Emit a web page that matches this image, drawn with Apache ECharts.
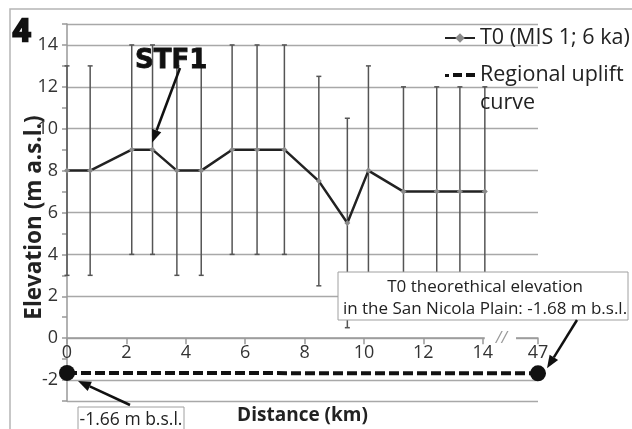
<!DOCTYPE html>
<html><head><meta charset="utf-8">
<script src="https://cdn.jsdelivr.net/npm/echarts@6/dist/echarts.min.js"></script>
<style>html,body{margin:0;padding:0;background:#fff}#c{width:632px;height:429px}</style>
</head><body><div id="c"></div>
<script>
// ---- data ----
const distanceKm = [0, 0.78, 2.18, 2.88, 3.70, 4.52, 5.56, 6.40, 7.32, 8.48, 9.44, 10.15, 11.33, 12.45, 13.23, 14.07];
const elevation  = [8, 8, 9, 9, 8, 8, 9, 9, 9, 7.5, 5.5, 8, 7, 7, 7, 7];
const errLow     = [3, 3, 4, 4, 3, 3, 4, 4, 4, 2.5, 0.5, 3, 2, 2, 2, 2];
const errHigh    = [13, 13, 14, 14, 13, 13, 14, 14, 14, 12.5, 10.5, 13, 12, 12, 12, 12];
const xTickValues = [0, 2, 4, 6, 8, 10, 12, 14];
const breakPos = 15.86;          // axis position standing for 47 km (broken axis)
const breakLabel = '47';
const upliftX = [0, breakPos];
const upliftY = [-1.66, -1.68];
const yTickLabels = [-2, 0, 2, 4, 6, 8, 10, 12, 14];
const seriesNames = ['T0 (MIS 1; 6 ka)', 'Regional uplift curve'];

const FONT = "'Open Sans',sans-serif";
const GRID = '#a8a8a8';

const chart = echarts.init(document.getElementById('c'), null, {renderer: 'canvas'});

const yMin = -3, yMax = 15;
const splitColors = [];
for (let v = yMin; v <= yMax; v++) {
  splitColors.push((v === yMin || v === yMax || v % 2 === 0) ? GRID : 'rgba(0,0,0,0)');
}

const option = {
  animation: false,
  backgroundColor: '#fff',
  grid: {left: 67, right: 94, top: 24, bottom: 28, outerBoundsMode: 'none', containLabel: false},
  legend: {
    orient: 'vertical', left: 444, top: 24, padding: 0,
    itemWidth: 30, itemHeight: 12, itemGap: -19,
    textStyle: {fontFamily: FONT, fontSize: 21.5, color: '#222', lineHeight: 28},
    data: [
      {name: seriesNames[0]},
      {name: seriesNames[1], icon: 'path://M0 1h4v3h-4z M8 0h9v4h-9z M21 0h9v4h-9z'}
    ],
    formatter: function (n) { return n === seriesNames[1] ? ' \nRegional uplift\ncurve' : n; }
  },
  xAxis: {
    type: 'value', min: 0, max: breakPos,
    axisLine: {onZero: true, lineStyle: {color: '#999', width: 1.5}},
    axisTick: {show: true, length: 6, customValues: xTickValues.concat([breakPos]), lineStyle: {color: '#999', width: 1.5}},
    axisLabel: {customValues: xTickValues.concat([breakPos]), margin: 6, fontFamily: FONT, fontSize: 18, color: '#333',
      formatter: function (v) { return Math.abs(v - breakPos) < 1e-6 ? breakLabel : String(v); }},
    splitLine: {show: false},
    name: 'Distance (km)', nameLocation: 'middle', nameGap: 68, nameMoveOverlap: false,
    nameTextStyle: {fontFamily: FONT, fontWeight: 'bold', fontSize: 19, color: '#222'}
  },
  yAxis: {
    type: 'value', min: yMin, max: yMax, interval: 1,
    axisLine: {show: true, onZero: false, lineStyle: {color: '#999', width: 1.5}},
    axisTick: {show: true, length: 5, lineStyle: {color: '#999', width: 1.5}},
    axisLabel: {margin: 9, fontFamily: FONT, fontSize: 18, color: '#333',
      formatter: function (v) { return yTickLabels.indexOf(v) >= 0 ? String(v) : ''; }},
    splitLine: {show: true, lineStyle: {color: splitColors, width: 1.3}},
    name: 'Elevation (m a.s.l.)', nameLocation: 'middle', nameGap: 21, nameMoveOverlap: false,
    nameTextStyle: {fontFamily: FONT, fontWeight: 'bold', fontSize: 22.5, color: '#222', padding: [0, 10, 0, 0]}
  },
  series: [
    {
      type: 'custom', name: 'errorbars', z: 2, silent: true,
      data: distanceKm.map(function (x, i) { return [x, errLow[i], errHigh[i]]; }),
      encode: {x: 0, y: [1, 2]},
      renderItem: function (params, api) {
        const x = api.value(0);
        const p1 = api.coord([x, api.value(1)]);
        const p2 = api.coord([x, api.value(2)]);
        const c = 2.5, st = {stroke: '#555', lineWidth: 1.5};
        return {type: 'group', children: [
          {type: 'line', shape: {x1: p1[0], y1: p1[1], x2: p2[0], y2: p2[1]}, style: st},
          {type: 'line', shape: {x1: p1[0] - c, y1: p1[1], x2: p1[0] + c, y2: p1[1]}, style: st},
          {type: 'line', shape: {x1: p2[0] - c, y1: p2[1], x2: p2[0] + c, y2: p2[1]}, style: st}
        ]};
      }
    },
    {
      type: 'line', name: seriesNames[0], z: 4,
      data: distanceKm.map(function (x, i) { return [x, elevation[i]]; }),
      lineStyle: {color: '#222', width: 2.5},
      symbol: 'diamond', symbolSize: 6, showSymbol: true,
      itemStyle: {color: '#8a8a8a'}
    },
    {
      type: 'line', name: seriesNames[1], z: 5,
      data: upliftX.map(function (x, i) { return [x, upliftY[i]]; }),
      lineStyle: {color: '#111', width: 4, type: [10, 4]},
      symbol: 'circle', symbolSize: 16,
      itemStyle: {color: '#111'}
    }
  ]
};
chart.setOption(option);

function px(x, y) { return chart.convertToPixel({gridIndex: 0}, [x, y]); }
// place the x axis line at elevation 0 (offset from grid bottom derived from the y scale)
const zeroY = px(0, 0)[1], bottomY = px(0, yMin)[1];
chart.setOption({xAxis: {offset: -(bottomY - zeroY)}});

function arrow(x1, y1, x2, y2) {
  const ang = Math.atan2(y2 - y1, x2 - x1), L = 13, W = 5;
  const bx = x2 - L * Math.cos(ang), by = y2 - L * Math.sin(ang);
  const nx = -Math.sin(ang) * W, ny = Math.cos(ang) * W;
  return [
    {type: 'line', z: 120, shape: {x1: x1, y1: y1, x2: bx, y2: by}, style: {stroke: '#111', lineWidth: 2.5}},
    {type: 'polygon', z: 120, shape: {points: [[x2, y2], [bx + nx, by + ny], [bx - nx, by - ny]]}, style: {fill: '#111'}}
  ];
}

const pSTF = px(distanceKm[3], elevation[3]);
const pL = px(upliftX[0], upliftY[0]);
const pR = px(upliftX[1], upliftY[1]);
const p14 = px(14, 0), pGap = px(15.12, 0);
const els = [];
els.push({type: 'rect', z: -10, silent: true, shape: {x: 10, y: 9, width: 650, height: 450}, style: {fill: 'none', stroke: '#b5b5b5', lineWidth: 1.5}});
els.push({type: 'text', z: 100, x: 13, y: 17, style: {text: '4', font: "bold 31px 'Liberation Sans', sans-serif", fill: '#111', stroke: '#111', lineWidth: 2.5, verticalAlign: 'top'}});
els.push({type: 'text', z: 100, x: 135, y: 48, style: {text: 'STF1', font: "900 26px 'DejaVu Sans', sans-serif", fill: '#111', stroke: '#111', lineWidth: 0.8, verticalAlign: 'top'}});
Array.prototype.push.apply(els, arrow(180, 68, pSTF[0] - 0.5, pSTF[1] - 7));
// axis break
els.push({type: 'rect', z: 100, shape: {x: p14[0] + 2, y: p14[1] - 3, width: pGap[0] - p14[0] - 2, height: 5}, style: {fill: '#fff'}});
els.push({type: 'text', z: 101, x: (p14[0] + pGap[0]) / 2 + 2, y: p14[1], style: {text: '//', font: "italic 16px 'Open Sans', sans-serif", fill: '#999', align: 'center', verticalAlign: 'middle'}});
// annotation boxes
els.push({type: 'rect', z: 110, shape: {x: 78, y: 407, width: 106, height: 30}, style: {fill: '#fff', stroke: '#a0a0a0', lineWidth: 1}});
els.push({type: 'text', z: 111, x: 131, y: 420, style: {text: '-1.66 m b.s.l.', font: "17.5px " + FONT, fill: '#222', align: 'center', verticalAlign: 'middle'}});
Array.prototype.push.apply(els, arrow(130, 405, pL[0] + 11, pL[1] + 8));
els.push({type: 'rect', z: 110, shape: {x: 338, y: 272, width: 290, height: 48}, style: {fill: '#fff', stroke: '#a0a0a0', lineWidth: 1}});
els.push({type: 'text', z: 111, x: 485, y: 287, style: {text: 'T0 theorethical elevation', font: "17px " + FONT, fill: '#222', align: 'center', verticalAlign: 'middle'}});
els.push({type: 'text', z: 111, x: 485, y: 309, style: {text: 'in the San Nicola Plain: -1.68 m b.s.l.', font: "17px " + FONT, fill: '#222', align: 'center', verticalAlign: 'middle'}});
Array.prototype.push.apply(els, arrow(577, 320, pR[0] + 9, pR[1] - 5));
chart.setOption({graphic: {elements: els}});
</script>
</body></html>
